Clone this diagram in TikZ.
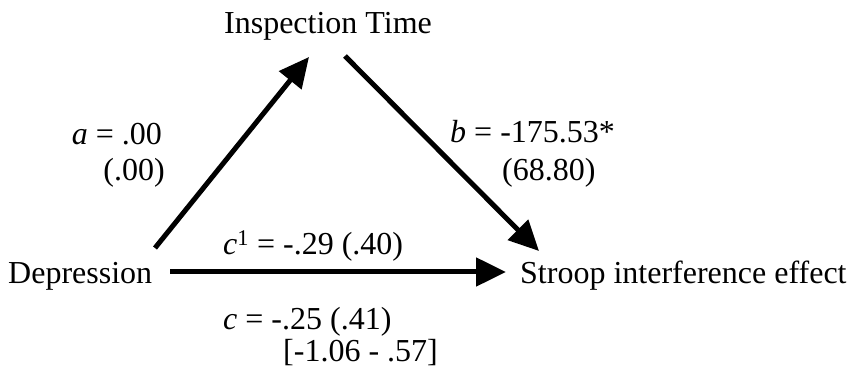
\documentclass[tikz,border=0pt]{standalone}
\usepackage{fontspec}
\setmainfont{Liberation Serif}
\usetikzlibrary{arrows.meta}
\begin{document}
\begin{tikzpicture}[x=1pt,y=1pt,
  lbl/.style={inner sep=0pt,font=\fontsize{32}{38}\selectfont},
  path/.style={line width=5pt,-{Triangle[length=30pt,width=28pt]}}]
\useasboundingbox (0,0) rectangle (851,374);
% variable names
\node[lbl,anchor=base] (it) at (328,340) {Inspection Time};
\node[lbl,anchor=base west] (dep) at (8,90) {Depression};
\node[lbl,anchor=base west] (str) at (520,90) {Stroop interference effect};
% arrow endpoints
\coordinate (a1) at (155,126);
\coordinate (a2) at (309,317);
\coordinate (b1) at (345,318);
\coordinate (b2) at (539,123);
\coordinate (c1) at (170,102);
\coordinate (c2) at (506,102);
\draw[path] (a1) -- (a2);
\draw[path] (b1) -- (b2);
\draw[path] (c1) -- (c2);
% path labels
\node[lbl,anchor=base east] (la) at (162,229) {\textit{a} = .00};
\node[lbl,anchor=base east] (las) at (165,193) {(.00)};
\node[lbl,anchor=base west] (lb) at (450,231) {\textit{b} = -175.53*};
\node[lbl,anchor=base west] (lbs) at (502,193) {(68.80)};
\node[lbl,anchor=base west] (lc1) at (223,119) {\textit{c}\textsuperscript{1} = -.29 (.40)};
\node[lbl,anchor=base west] (lc) at (223,44) {\textit{c} = -.25 (.41)};
\node[lbl,anchor=base west] (lci) at (283,12) {[-1.06 - .57]};
\end{tikzpicture}
\end{document}
